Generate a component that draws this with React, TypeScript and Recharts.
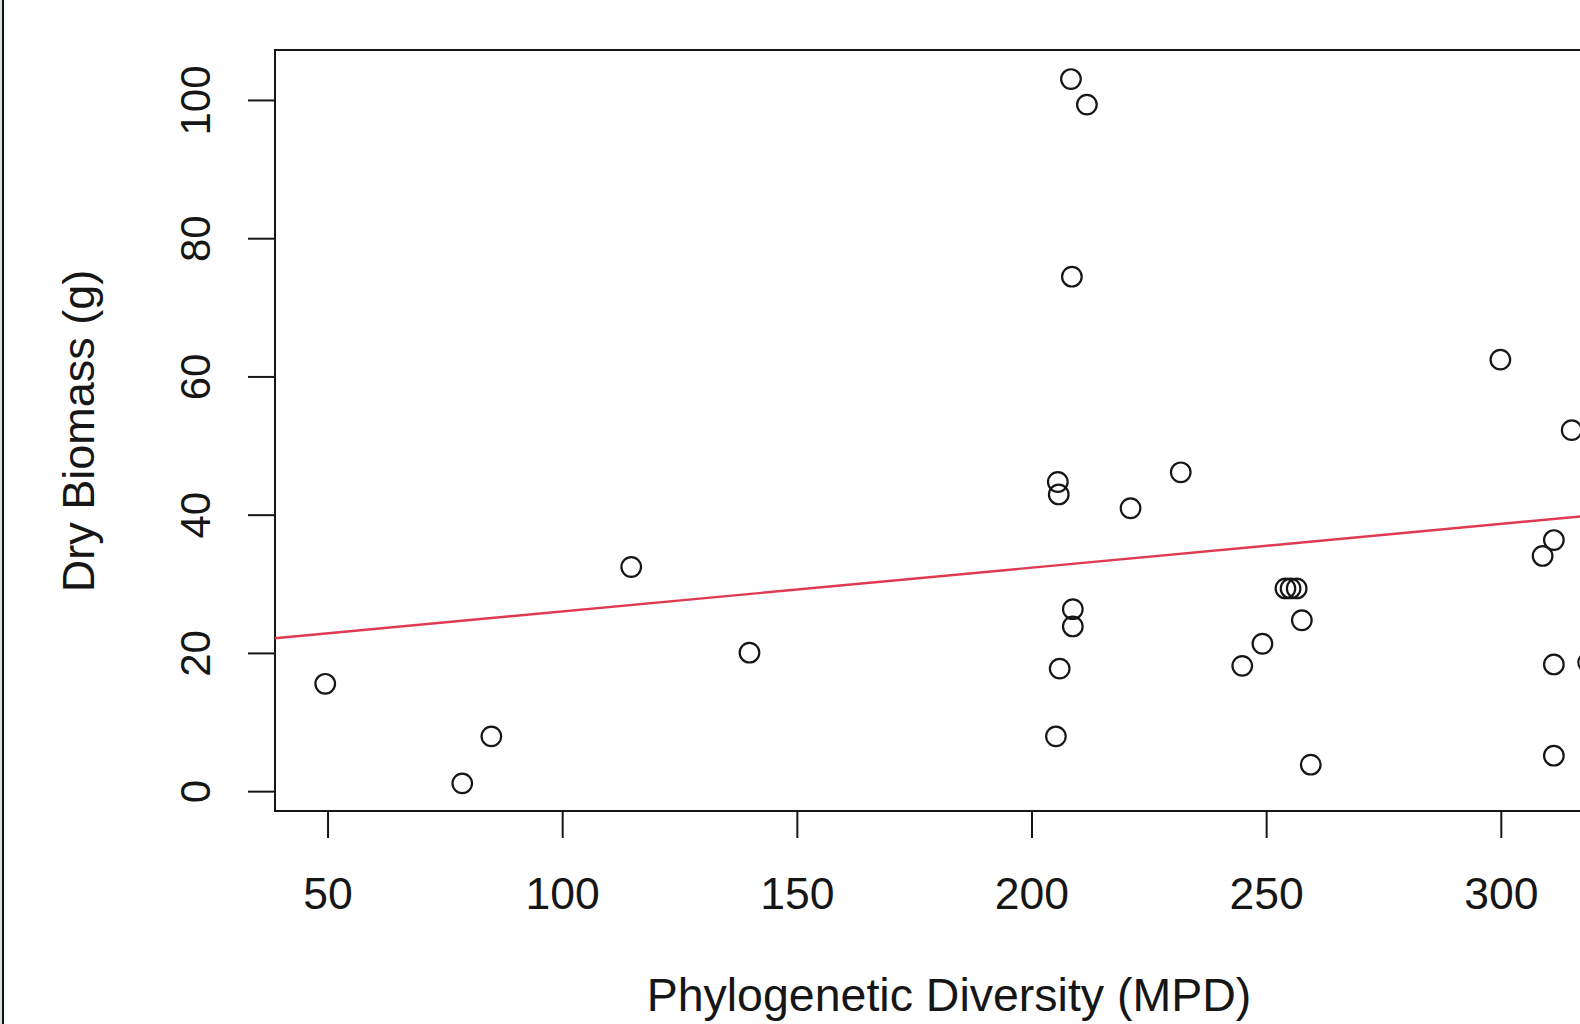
import React from "react";
import {
  ReferenceArea,
  ReferenceLine,
  Scatter,
  ScatterChart,
  XAxis,
  YAxis,
} from "recharts";

// phylogenetic diversity (MPD) per plot
const mpd = [
  49.4, 78.6, 84.8, 114.6, 139.8, 208.3, 211.7, 208.5, 205.5, 205.7, 221.0,
  231.7, 208.7, 208.7, 205.9, 205.1, 244.8, 249.1, 254.0, 255.1, 256.4, 257.5,
  259.4, 299.8, 315.0, 311.2, 308.8, 311.2, 311.2, 318.5,
];
// dry biomass (g) per plot
const biomass = [
  15.6, 1.2, 8.0, 32.5, 20.1, 103.1, 99.4, 74.5, 44.8, 43.0, 41.0, 46.2, 26.4,
  23.9, 17.8, 8.0, 18.2, 21.4, 29.4, 29.4, 29.4, 24.8, 3.9, 62.5, 52.3, 36.4,
  34.1, 18.4, 5.2, 18.7,
];

const xTicks = [50, 100, 150, 200, 250, 300];
const yTicks = [0, 20, 40, 60, 80, 100];

// lm fit shown in red
const fitIntercept = 19.75;
const fitSlope = 0.0633;

const xDomain: [number, number] = [38.7, 328.7];
const yDomain: [number, number] = [-2.8, 107.3];

const font = '"Liberation Sans", Arial, Helvetica, sans-serif';
const ink = "#161616";

const points = mpd.map((x, i) => ({ x, y: biomass[i] }));

const XTick = (props: any) => (
  <text
    x={props.x}
    y={props.y + 71}
    textAnchor="middle"
    fontSize={44.5}
    fontFamily={font}
    fill={ink}
  >
    {props.payload.value}
  </text>
);

const YTick = (props: any) => {
  const bx = props.x - 38;
  return (
    <text
      x={bx}
      y={props.y}
      transform={`rotate(-90, ${bx}, ${props.y})`}
      textAnchor="middle"
      fontSize={42}
      fontFamily={font}
      fill={ink}
    >
      {props.payload.value}
    </text>
  );
};

const XTitle = () => (
  <text
    x={949}
    y={1011}
    textAnchor="middle"
    fontSize={46.5}
    fontFamily={font}
    fill={ink}
  >
    Phylogenetic Diversity (MPD)
  </text>
);

const YTitle = () => (
  <text
    x={94}
    y={431}
    transform="rotate(-90, 94, 431)"
    textAnchor="middle"
    fontSize={45}
    fontFamily={font}
    fill={ink}
  >
    Dry Biomass (g)
  </text>
);

const Ring = (props: any) => (
  <circle
    cx={props.cx}
    cy={props.cy}
    r={9.8}
    fill="none"
    stroke={ink}
    strokeWidth={2.2}
  />
);

export default function App() {
  return (
    <div
      style={{
        position: "absolute",
        left: 0,
        top: 0,
        width: 1580,
        height: 1024,
        overflow: "hidden",
        background: "#fff",
      }}
    >
      <div
        style={{
          position: "absolute",
          left: 0,
          top: 0,
          width: 2,
          height: 1024,
          background: "#d6e2e6",
          borderRight: "2px solid #111",
        }}
      />
      <ScatterChart
        width={1660}
        height={1024}
        margin={{ top: 50, right: 24, bottom: 0, left: 0 }}
      >
        <XAxis
          type="number"
          dataKey="x"
          domain={xDomain}
          ticks={xTicks}
          allowDataOverflow
          axisLine={false}
          tickSize={27}
          tickMargin={0}
          tickLine={{ stroke: ink, strokeWidth: 2 }}
          tick={<XTick />}
          height={213}
          label={<XTitle />}
        />
        <YAxis
          type="number"
          dataKey="y"
          domain={yDomain}
          ticks={yTicks}
          allowDataOverflow
          axisLine={false}
          tickSize={27}
          tickMargin={0}
          tickLine={{ stroke: ink, strokeWidth: 2 }}
          tick={<YTick />}
          width={275}
          label={<YTitle />}
        />
        <ReferenceArea
          x1={xDomain[0]}
          x2={xDomain[1]}
          y1={yDomain[0]}
          y2={yDomain[1]}
          fill="none"
          stroke={ink}
          strokeWidth={2}
          ifOverflow="visible"
        />
        <Scatter
          data={points}
          shape={<Ring />}
          isAnimationActive={false}
        />
        <ReferenceLine
          segment={[
            { x: xDomain[0], y: fitIntercept + fitSlope * xDomain[0] },
            { x: xDomain[1], y: fitIntercept + fitSlope * xDomain[1] },
          ]}
          stroke="#e03a52"
          strokeWidth={2.4}
          ifOverflow="visible"
        />
      </ScatterChart>
    </div>
  );
}
